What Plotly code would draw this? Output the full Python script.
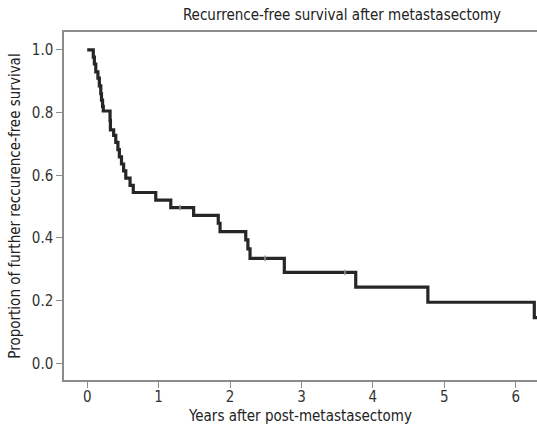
import plotly.graph_objects as go

# Kaplan-Meier step data (time in years, survival proportion after event)
event_times = [0.0, 0.085, 0.10, 0.12, 0.15, 0.17, 0.19, 0.20, 0.215, 0.225,
               0.32, 0.325, 0.37, 0.40, 0.43, 0.45, 0.48, 0.51, 0.54, 0.60,
               0.645, 0.96, 1.17, 1.49, 1.835, 1.86, 2.22, 2.25, 2.28, 2.76,
               3.76, 4.77, 6.26, 6.35]
survival = [1.0, 0.977, 0.955, 0.93, 0.91, 0.885, 0.86, 0.84, 0.82, 0.805,
            0.775, 0.745, 0.727, 0.705, 0.682, 0.659, 0.636, 0.614, 0.591, 0.568,
            0.545, 0.521, 0.497, 0.472, 0.447, 0.420, 0.394, 0.365, 0.335, 0.290,
            0.243, 0.195, 0.146, 0.146]

censor_times = [1.30, 2.49, 3.61]
censor_surv = [0.497, 0.335, 0.290]

x_ticks = [0, 1, 2, 3, 4, 5, 6]
y_ticks = [0.0, 0.2, 0.4, 0.6, 0.8, 1.0]
y_tick_labels = ["0.0", "0.2", "0.4", "0.6", "0.8", "1.0"]

FONT = "DejaVu Sans Condensed, DejaVu Sans, sans-serif"

fig = go.Figure()
fig.add_trace(go.Scatter(
    x=event_times, y=survival, mode="lines",
    line=dict(shape="hv", color="#262626", width=3.2),
    showlegend=False, hoverinfo="skip"))
fig.add_trace(go.Scatter(
    x=censor_times, y=censor_surv, mode="markers",
    marker=dict(symbol="line-ns", size=4, line=dict(color="#9a9a9a", width=1.5)),
    showlegend=False, hoverinfo="skip"))

fig.update_layout(
    width=537, height=426,
    margin=dict(l=64, r=0, t=32, b=46),
    paper_bgcolor="white", plot_bgcolor="white",
    font=dict(family=FONT, color="#333333"),
    title=dict(text="Recurrence-free survival after metastasectomy",
               x=342/537, xanchor="center", y=1-15/426, yanchor="middle",
               font=dict(size=15, color="#222222", family=FONT)),
)
fig.update_xaxes(
    range=[-0.325, 6.298], tickvals=x_ticks,
    showline=True, linecolor="#8c8c8c", linewidth=1.5, mirror=True,
    ticks="outside", ticklen=6, tickcolor="#8c8c8c", tickwidth=1.2,
    ticklabelstandoff=-4,
    showgrid=False, zeroline=False,
    tickfont=dict(size=15, color="#333333"),
    title=dict(text="Years after post-metastasectomy", standoff=6,
               font=dict(size=15, color="#222222")))
fig.update_yaxes(
    range=[-0.053, 1.057], tickvals=y_ticks, ticktext=y_tick_labels,
    showline=True, linecolor="#8c8c8c", linewidth=1.5, mirror=False,
    ticks="outside", ticklen=6, tickcolor="#8c8c8c", tickwidth=1.2,
    showgrid=False, zeroline=False,
    tickfont=dict(size=15, color="#333333"),
    title=dict(text="Proportion of further reccurence-free survival", standoff=8,
               font=dict(size=15, color="#222222")))

fig.write_html("out.html")
